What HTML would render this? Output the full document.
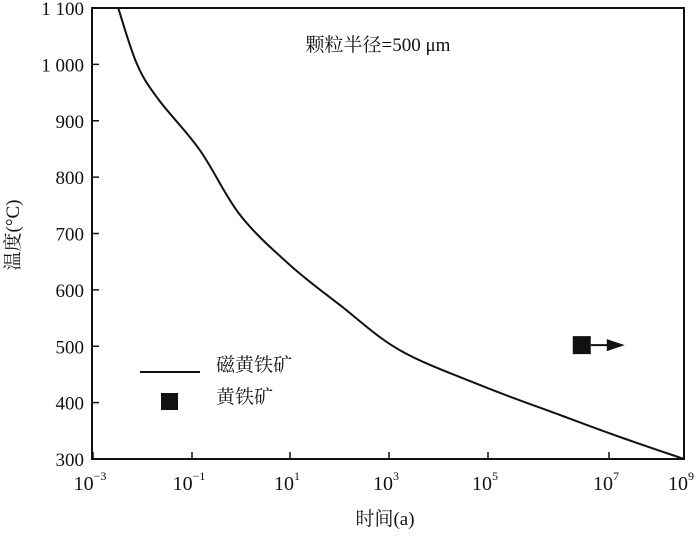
<!DOCTYPE html>
<html><head><meta charset="utf-8"><style>
body{margin:0;background:#fff}
svg text{font-family:"Liberation Serif","Noto Serif CJK SC",serif;fill:#111}
</style></head><body>
<svg width="700" height="532" viewBox="0 0 700 532">
<g id="axes"></g><g id="series"></g>
<text x="378" y="51" font-size="19" text-anchor="middle">颗粒半径=500 μm</text>
<line x1="140" y1="372" x2="200" y2="372" stroke="#111" stroke-width="2"/>
<text x="216" y="371" font-size="19">磁黄铁矿</text>
<rect x="161" y="393" width="17" height="17" fill="#111"/>
<text x="216" y="403" font-size="19">黄铁矿</text>
<text x="385" y="525" font-size="19" text-anchor="middle">时间(a)</text>
<text transform="translate(19,235) rotate(-90)" font-size="19" text-anchor="middle">温度(°C)</text>
</svg>
<script>
const xTickExps=[-3,-1,1,3,5,7,9];
const yTicks=[300,400,500,600,700,800,900,1000,1100];
const yTickLabels=["300","400","500","600","700","800","900","1 000","1 100"];
const curveLogT=[-2.49,-2.11,-1.67,-0.84,-0.02,1.0,2.01,3.22,4.84,6.19,7.29,9];
const curveTemp=[1100,1000,937,848,733,644,573,493,431,378,339,300];
const pyriteLogT=[6.55];
const pyriteTemp=[502];
// axis calibration (reference axis has uneven decade spacing)
const calExp=[-3,-1,1,3,5,7,9], calPx=[93,192,290,389,488,609,684];
function xs(e){for(let i=0;i<calExp.length-1;i++){if(e<=calExp[i+1]||i==calExp.length-2){return calPx[i]+(e-calExp[i])/(calExp[i+1]-calExp[i])*(calPx[i+1]-calPx[i]);}}}
function ys(t){return 8+(1100-t)/800*451;}
const NS="http://www.w3.org/2000/svg";
function mk(tag,attrs,parent){const el=document.createElementNS(NS,tag);for(const k in attrs)el.setAttribute(k,attrs[k]);parent.appendChild(el);return el;}
const ax=document.getElementById('axes'),se=document.getElementById('series');
const frame=mk('rect',{x:92,y:8,width:592,height:451,fill:'none',stroke:'#111','stroke-width':2},ax);


xTickExps.forEach(e=>{const x=xs(e);
 const t=mk('line',{x1:x,y1:459,x2:x,y2:452,stroke:'#111','stroke-width':1.5},ax);
 
 
 const tx=mk('text',{x:x-3,y:490,'font-size':20,'text-anchor':'middle'},ax);
 
 
 tx.textContent='10';
 const sp=mk('tspan',{dy:-10,'font-size':12},tx);sp.textContent=(e<0?'\u2212'+(-e):''+e);
});
yTicks.forEach((v,i)=>{const y=ys(v);
 const t=mk('line',{x1:92,y1:y,x2:99,y2:y,stroke:'#111','stroke-width':1.5},ax);
 
 
 const tx=mk('text',{x:84,y:y+7,'font-size':19,'text-anchor':'end'},ax);
 
 
 tx.textContent=yTickLabels[i];
});
const pts=curveLogT.map((e,i)=>[xs(e),ys(curveTemp[i])]);
let d='M'+pts[0][0].toFixed(1)+','+pts[0][1].toFixed(1);
for(let i=0;i<pts.length-1;i++){
 const p0=pts[Math.max(0,i-1)],p1=pts[i],p2=pts[i+1],p3=pts[Math.min(pts.length-1,i+2)];
 const c1=[p1[0]+(p2[0]-p0[0])/6,p1[1]+(p2[1]-p0[1])/6];
 const c2=[p2[0]-(p3[0]-p1[0])/6,p2[1]-(p3[1]-p1[1])/6];
 d+=`C${c1[0].toFixed(1)},${c1[1].toFixed(1)} ${c2[0].toFixed(1)},${c2[1].toFixed(1)} ${p2[0].toFixed(1)},${p2[1].toFixed(1)}`;
}
const p=mk('path',{d:d,fill:'none',stroke:'#111','stroke-width':2,'stroke-linejoin':'round'},se);


pyriteLogT.forEach((e,i)=>{const x=xs(e),y=ys(pyriteTemp[i]);
 const r=mk('rect',{x:x-9,y:y-9,width:18,height:18,fill:'#111'},se);
 
 
 const l=mk('line',{x1:x+9,y1:y,x2:x+28,y2:y,stroke:'#111','stroke-width':2},se);
 
 
 const h=mk('polygon',{points:`${x+25},${y-6} ${x+43},${y} ${x+25},${y+6}`,fill:'#111'},se);
 
 
});
</script>
</body></html>
